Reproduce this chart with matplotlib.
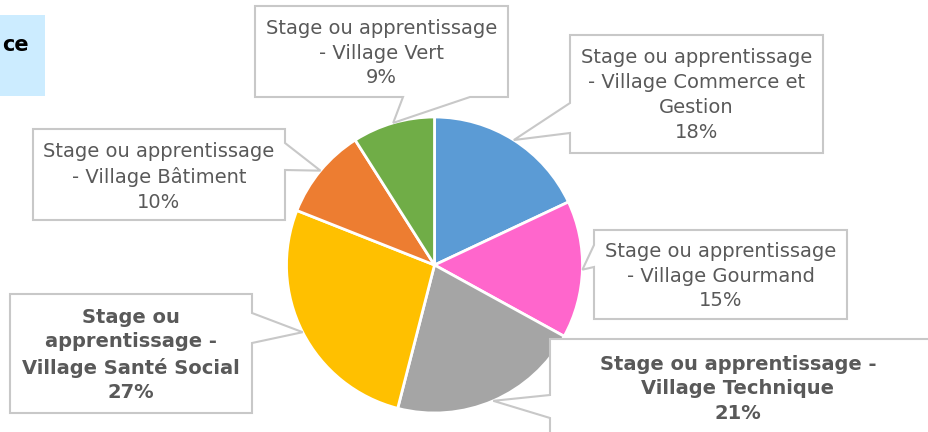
import numpy as np
import matplotlib.pyplot as plt
from matplotlib.patches import Polygon, Rectangle

W, H = 929, 432

labels = ["Stage ou apprentissage\n- Village Commerce et\nGestion",
          "Stage ou apprentissage\n- Village Gourmand",
          "Stage ou apprentissage -\nVillage Technique",
          "Stage ou\napprentissage -\nVillage Santé Social",
          "Stage ou apprentissage\n- Village Bâtiment",
          "Stage ou apprentissage\n- Village Vert"]
values = [18, 15, 21, 27, 10, 9]
colors = ["#5B9BD5", "#FF66CC", "#A5A5A5", "#FFC000", "#ED7D31", "#70AD47"]
bold = [False, False, True, True, False, False]

# callout layout in image pixels: box (x0, y0, x1, y1), side of pointer, pointer base
boxes = [(570, 35, 823, 153), (594, 230, 847, 319), (550, 339, 940, 445),
         (10, 294, 252, 413), (33, 129, 285, 220), (255, 6, 508, 97)]
sides = ["left", "left", "left", "right", "right", "bottom"]
bases = [(103, 133), (245, 267), (395, 418), (313, 343), (143, 170), (403, 470)]
text_y = [95, 276, 389, 355, 177, 53]

cx, cy, R = 434.5, 265, 148

fig = plt.figure(figsize=(W / 100, H / 100), dpi=100)
ax = fig.add_axes([0, 0, 1, 1])

ax.pie(values, colors=colors, startangle=90, counterclock=False,
       center=(cx, H - cy), radius=R,
       wedgeprops=dict(edgecolor="white", linewidth=2))
ax.set_xlim(0, W)
ax.set_ylim(0, H)
ax.set_aspect("equal")
ax.axis("off")

# mid angle of each wedge, for the pointer tips
ends = 90 - 360 * np.cumsum(values) / sum(values)
starts = np.concatenate([[90], ends[:-1]])
mids = np.radians((starts + ends) / 2)


def callout(box, side, base, tip, text, ty, is_bold):
    x0, y0, x1, y1 = box
    b1, b2 = base
    if side == "left":
        pts = [(x0, y0), (x1, y0), (x1, y1), (x0, y1), (x0, b2), tip, (x0, b1)]
    elif side == "right":
        pts = [(x0, y0), (x1, y0), (x1, b1), tip, (x1, b2), (x1, y1), (x0, y1)]
    else:
        pts = [(x0, y0), (x1, y0), (x1, y1), (b2, y1), tip, (b1, y1), (x0, y1)]
    pts = [(px, H - py) for px, py in pts]
    ax.add_patch(Polygon(pts, closed=True, facecolor="white", edgecolor="#C8C8C8",
                         linewidth=1.5, zorder=5))
    tx = (x0 + x1) / 2 if x1 <= W else 738
    ax.text(tx, H - ty, text, ha="center", va="center",
            fontsize=14, color="#595959", linespacing=1.38,
            fontweight="bold" if is_bold else "normal", zorder=6)


for i in range(len(values)):
    tip = (cx + R * np.cos(mids[i]), cy - R * np.sin(mids[i]))
    pct = f"{round(100 * values[i] / sum(values))}%"
    callout(boxes[i], sides[i], bases[i], tip, labels[i] + "\n" + pct, text_y[i], bold[i])

# title box at the top left (only its end is in view)
ax.add_patch(Rectangle((0, H - 96), 45, 81, facecolor="#CCECFF", edgecolor="none", zorder=5))
ax.text(2, H - 45, "ce", ha="left", va="center", fontsize=15,
        fontweight="bold", color="black", zorder=6)

fig.savefig("out.png", dpi=100)
